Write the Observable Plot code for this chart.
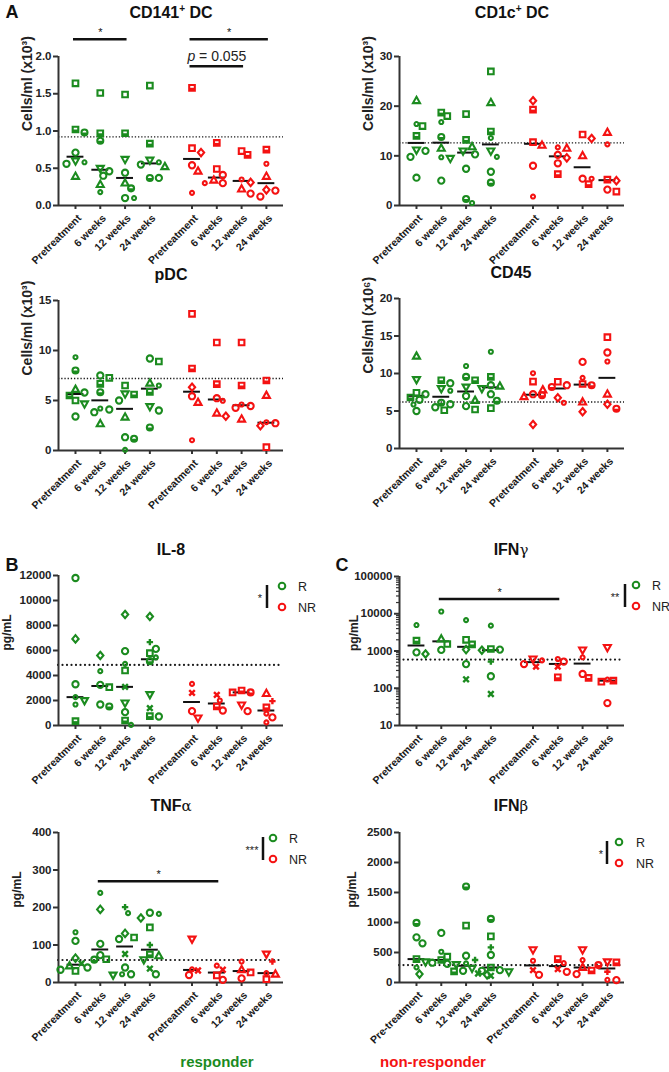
<!DOCTYPE html>
<html><head><meta charset="utf-8">
<script src="https://cdn.jsdelivr.net/npm/d3@7"></script>
<script src="https://cdn.jsdelivr.net/npm/@observablehq/plot@0.6"></script>
<style>
body{margin:0;background:#fff;font-family:"Liberation Sans",Arial,sans-serif;}
#root{position:relative;width:669px;height:1072px;overflow:hidden;background:#fff;}
.abs{position:absolute;white-space:nowrap;line-height:1;}
.title{font-weight:bold;font-size:16px;color:#111;transform:translate(-50%,-50%);}
.title sup{font-size:10px;vertical-align:6px;line-height:0;}
.title .gr{font-weight:normal;font-family:"DejaVu Serif",serif;font-size:15px;}
.letter{font-weight:bold;font-size:18px;color:#111;transform:translate(-50%,-50%);}
.grp{font-weight:bold;font-size:15px;transform:translate(-50%,-50%);}
</style></head><body><div id="root"></div><script>
// ---------------- DATA ----------------
const timepoints = ["Pretreatment","6 weeks","12 weeks","24 weeks","Pretreatment","6 weeks","12 weeks","24 weeks"];
const timepointsIFNb = ["Pre-treatment","6 weeks","12 weeks","24 weeks","Pre-treatment","6 weeks","12 weeks","24 weeks"];
const responder = [true,true,true,true,false,false,false,false];
// [group index, value, patient symbol]
const cd141 = [
 [0,1.64,"sq"],[0,1.02,"hs"],[0,0.98,"hc"],[0,0.71,"ci"],[0,0.60,"td"],[0,0.58,"sc"],[0,0.56,"ci"],[0,0.39,"tu"],
 [1,1.51,"sq"],[1,0.97,"hs"],[1,0.87,"hc"],[1,0.50,"td"],[1,0.46,"ci"],[1,0.40,"ci"],[1,0.28,"tu"],[1,0.18,"sc"],
 [2,1.49,"sq"],[2,0.97,"hs"],[2,0.62,"td"],[2,0.44,"ci"],[2,0.30,"tu"],[2,0.23,"hc"],[2,0.10,"ci"],[2,0.10,"sc"],
 [3,1.61,"sq"],[3,0.83,"hs"],[3,0.61,"td"],[3,0.58,"sc"],[3,0.55,"ci"],[3,0.52,"tu"],[3,0.37,"hc"],[3,0.37,"ci"],
 [4,1.58,"hs"],[4,0.77,"sq"],[4,0.71,"di"],[4,0.54,"ci"],[4,0.46,"tu"],[4,0.17,"sc"],
 [5,0.84,"hs"],[5,0.49,"sq"],[5,0.41,"ci"],[5,0.34,"tu"],[5,0.30,"ci"],[5,0.30,"sc"],
 [6,0.73,"sq"],[6,0.68,"hs"],[6,0.35,"sc"],[6,0.31,"di"],[6,0.22,"tu"],[6,0.16,"ci"],
 [7,0.75,"hs"],[7,0.56,"sc"],[7,0.39,"tu"],[7,0.21,"di"],[7,0.20,"ci"],[7,0.12,"ci"]
];
const cd1c = [
 [0,21.1,"tu"],[0,16.4,"sc"],[0,16.0,"sq"],[0,14.0,"hs"],[0,11.2,"td"],[0,11.0,"ci"],[0,9.8,"ci"],[0,5.6,"ci"],
 [1,18.7,"hs"],[1,18.0,"sq"],[1,16.8,"sc"],[1,13.8,"hc"],[1,11.5,"tu"],[1,9.7,"sc"],[1,9.5,"td"],[1,5.0,"ci"],
 [2,18.4,"sq"],[2,13.2,"hs"],[2,11.8,"tu"],[2,11.0,"td"],[2,10.3,"ci"],[2,7.4,"ci"],[2,1.3,"hc"],[2,0.5,"sc"],
 [3,27.0,"sq"],[3,20.7,"tu"],[3,14.9,"hs"],[3,13.6,"sc"],[3,11.0,"td"],[3,9.8,"sc"],[3,6.8,"ci"],[3,4.6,"hc"],
 [4,21.1,"di"],[4,19.3,"hs"],[4,12.75,"sq"],[4,12.1,"tu"],[4,8.0,"ci"],[4,1.8,"sc"],
 [5,11.7,"sc"],[5,11.5,"tu"],[5,10.2,"ci"],[5,9.6,"di"],[5,8.5,"ci"],[5,6.3,"hs"],
 [6,14.3,"sq"],[6,13.5,"di"],[6,10.0,"tu"],[6,5.4,"ci"],[6,5.4,"sc"],[6,4.3,"hs"],
 [7,14.7,"tu"],[7,12.3,"sc"],[7,5.2,"hs"],[7,5.0,"di"],[7,3.2,"ci"],[7,2.8,"sq"]
];
const pdc = [
 [0,9.33,"sc"],[0,8.0,"hc"],[0,6.1,"tu"],[0,5.8,"ci"],[0,5.5,"hs"],[0,5.0,"sq"],[0,4.67,"td"],[0,3.4,"ci"],
 [1,7.5,"ci"],[1,7.27,"sq"],[1,6.67,"hs"],[1,5.83,"hc"],[1,4.2,"sc"],[1,4.1,"ci"],[1,3.83,"ci"],[1,2.67,"tu"],
 [2,6.5,"sq"],[2,5.67,"td"],[2,5.6,"hs"],[2,5.0,"ci"],[2,3.33,"tu"],[2,1.33,"ci"],[2,1.17,"hc"],[2,0.07,"sc"],
 [3,9.2,"ci"],[3,8.9,"sq"],[3,6.73,"tu"],[3,6.5,"sc"],[3,5.87,"hs"],[3,4.4,"td"],[3,4.0,"ci"],[3,2.3,"hc"],
 [4,13.67,"sq"],[4,8.2,"hs"],[4,6.33,"di"],[4,5.43,"ci"],[4,4.8,"tu"],[4,1.03,"sc"],
 [5,10.8,"sq"],[5,6.63,"hs"],[5,5.23,"ci"],[5,4.97,"sc"],[5,3.73,"tu"],[5,3.43,"di"],
 [6,10.8,"sq"],[6,6.5,"hs"],[6,4.6,"sc"],[6,4.45,"ci"],[6,4.27,"ci"],[6,3.13,"tu"],
 [7,7.0,"hs"],[7,5.5,"tu"],[7,2.83,"sc"],[7,2.73,"ci"],[7,2.47,"di"],[7,0.33,"sq"]
];
const cd45 = [
 [0,12.3,"tu"],[0,9.2,"td"],[0,7.42,"sq"],[0,7.24,"ci"],[0,6.8,"hs"],[0,6.5,"ci"],[0,5.87,"sc"],[0,5.0,"ci"],
 [1,9.1,"hs"],[1,8.7,"ci"],[1,8.0,"td"],[1,7.7,"sc"],[1,6.1,"hc"],[1,5.9,"ci"],[1,5.5,"ci"],[1,5.1,"sq"],
 [2,11.0,"sc"],[2,9.55,"hc"],[2,9.1,"hs"],[2,8.2,"td"],[2,7.0,"ci"],[2,6.4,"tu"],[2,5.65,"ci"],[2,5.2,"sq"],
 [3,12.9,"sc"],[3,9.55,"hs"],[3,8.44,"ci"],[3,8.3,"tu"],[3,8.0,"td"],[3,7.24,"ci"],[3,6.36,"hc"],[3,5.38,"sq"],
 [4,10.04,"sc"],[4,8.93,"sq"],[4,7.24,"ci"],[4,7.1,"hc"],[4,6.9,"tu"],[4,3.2,"di"],
 [5,8.9,"sq"],[5,8.44,"ci"],[5,8.2,"hc"],[5,7.8,"tu"],[5,6.76,"di"],[5,6.1,"sc"],
 [6,11.55,"ci"],[6,9.42,"sc"],[6,8.6,"sq"],[6,8.44,"hc"],[6,6.18,"tu"],[6,4.9,"di"],
 [7,14.84,"sq"],[7,12.8,"ci"],[7,11.6,"sc"],[7,7.24,"tu"],[7,5.9,"di"],[7,5.3,"hc"]
];
const il8 = [
 [0,11800,"ci"],[0,6930,"di"],[0,3300,"ci"],[0,2270,"sc"],[0,2000,"td"],[0,1680,"sc"],[0,350,"hs"],
 [1,5600,"di"],[1,4350,"sc"],[1,3250,"ci"],[1,3070,"sq"],[1,1680,"ci"],[1,1520,"hc"],
 [2,8880,"di"],[2,5950,"ci"],[2,4930,"sc"],[2,4400,"sq"],[2,3090,"x"],[2,1810,"td"],[2,1070,"ci"],[2,400,"hs"],[2,50,"sc"],
 [3,8720,"di"],[3,6670,"p"],[3,6130,"ci"],[3,5790,"sq"],[3,5450,"sc"],[3,5150,"hc"],[3,2480,"td"],[3,1390,"x"],[3,750,"hs"],[3,720,"ci"],
 [4,3330,"sc"],[4,2610,"x"],[4,1150,"ci"],[4,610,"td"],
 [5,2450,"x"],[5,2000,"sc"],[5,1520,"hs"],[5,1200,"ci"],
 [6,2800,"hs"],[6,2650,"hc"],[6,2650,"sq"],[6,1650,"td"],[6,1150,"ci"],
 [7,2550,"tu"],[7,1950,"p"],[7,1450,"hs"],[7,950,"sc"],[7,650,"ci"],[7,250,"sc"]
];
const ifng = [
 [0,4970,"sc"],[0,1890,"hs"],[0,920,"ci"],[0,832,"di"],
 [1,11500,"sc"],[1,2090,"tu"],[1,1540,"sq"],[1,1070,"ci"],
 [2,6760,"sc"],[2,2000,"sq"],[2,1500,"hs"],[2,1090,"di"],[2,445,"ci"],[2,174,"x"],
 [3,4790,"sc"],[3,1130,"hs"],[3,1090,"ci"],[3,1050,"di"],[3,518,"p"],[3,210,"ci"],[3,70,"x"],
 [4,611,"td"],[4,560,"sc"],[4,446,"ci"],[4,380,"x"],
 [5,611,"sc"],[5,519,"ci"],[5,380,"x"],[5,197,"hs"],
 [6,1070,"td"],[6,677,"sc"],[6,242,"ci"],[6,189,"hs"],
 [7,1250,"td"],[7,171,"sc"],[7,160,"hs"],[7,150,"sq"],[7,40,"ci"]
];
const tnfa = [
 [0,134,"sc"],[0,111,"ci"],[0,65,"di"],[0,51,"x"],[0,44,"tu"],[0,40,"ci"],[0,34,"ci"],[0,31,"sq"],
 [1,239,"sc"],[1,195,"di"],[1,103,"ci"],[1,73,"ci"],[1,62,"sq"],[1,61,"hc"],
 [2,201,"p"],[2,185,"sc"],[2,131,"di"],[2,120,"sq"],[2,116,"ci"],[2,76,"x"],[2,40,"ci"],[2,22,"ci"],[2,22,"sc"],[2,20,"td"],
 [3,186,"ci"],[3,183,"sc"],[3,172,"di"],[3,147,"sq"],[3,100,"p"],[3,75,"hs"],[3,71,"tu"],[3,61,"td"],[3,37,"x"],[3,22,"ci"],
 [4,116,"td"],[4,35,"sc"],[4,32,"x"],[4,20,"ci"],
 [5,45,"sc"],[5,34,"x"],[5,19,"sq"],[5,7,"ci"],
 [6,56,"sc"],[6,34,"tu"],[6,27,"sq"],[6,11,"ci"],
 [7,76,"td"],[7,56,"p"],[7,25,"sc"],[7,22,"tu"],[7,9,"sq"]
];
const ifnb = [
 [0,993,"hc"],[0,753,"ci"],[0,653,"ci"],[0,390,"hs"],[0,346,"td"],[0,251,"sc"],[0,140,"di"],
 [1,826,"ci"],[1,513,"sc"],[1,430,"sq"],[1,375,"hs"],[1,330,"ci"],[1,310,"ci"],[1,300,"td"],
 [2,1601,"hc"],[2,949,"sq"],[2,446,"ci"],[2,374,"p"],[2,318,"sc"],[2,240,"td"],[2,195,"ci"],[2,184,"hs"],[2,150,"x"],[2,128,"di"],
 [3,1060,"hc"],[3,770,"sq"],[3,586,"p"],[3,458,"ci"],[3,250,"hs"],[3,206,"ci"],[3,195,"ci"],[3,180,"td"],[3,112,"x"],
 [4,547,"td"],[4,363,"sc"],[4,206,"x"],[4,128,"ci"],
 [5,390,"hs"],[5,324,"sc"],[5,223,"x"],[5,178,"ci"],
 [6,547,"td"],[6,374,"sc"],[6,250,"tu"],[6,200,"hs"],[6,140,"ci"],
 [7,346,"td"],[7,335,"hs"],[7,290,"hc"],[7,178,"p"],[7,45,"sc"],[7,39,"ci"]
];
// healthy-donor reference levels (dotted lines)
const refLevels = {cd141:0.92, cd1c:12.6, pdc:7.2, cd45:6.2, il8:4850, ifng:590, tnfa:60, ifnb:290};
// significance annotations: [from group, to group, level, label]
const sigCD141 = [[0,2,2.23,"*"],[4,7,2.23,"*"],[4,6,1.87,"p = 0.055"]];
const sigIFNg = [[1,5,25000,"*"]];
const sigTNFa = [[1,5,270,"*"]];
const legendStars = {il8:"*", ifng:"**", tnfa:"***", ifnb:"*"};

// ---------------- STYLE / LAYOUT ----------------
const GREEN = "#1b8b1f", RED = "#f41212", AX = "#333", INK = "#1a1a1a";
const GROUP_POS = [0,1,2,3,4.7,5.7,6.7,7.7];
const X_DOMAIN = [-0.685, 8.39];
const FRAME_W = 225;
const R = {sq:2.8, ci:3.1, sc:2.0, tu:3.7, td:3.7, di:3.7, hc:3.0, hs:2.8, x:2.8, p:3.2};
const rad = s => Math.sqrt(s / Math.PI);
const SYM = {
  sq:{draw(c,s){const r=rad(s);c.moveTo(-r,-r);c.lineTo(r,-r);c.lineTo(r,r);c.lineTo(-r,r);c.closePath();}},
  ci:{draw(c,s){const r=rad(s);c.moveTo(r,0);c.arc(0,0,r,0,2*Math.PI);}},
  sc:{draw(c,s){const r=rad(s);c.moveTo(r,0);c.arc(0,0,r,0,2*Math.PI);}},
  tu:{draw(c,s){const r=rad(s);c.moveTo(0,-r*1.05);c.lineTo(r*0.95,r*0.65);c.lineTo(-r*0.95,r*0.65);c.closePath();}},
  td:{draw(c,s){const r=rad(s);c.moveTo(0,r*1.05);c.lineTo(r*0.95,-r*0.65);c.lineTo(-r*0.95,-r*0.65);c.closePath();}},
  di:{draw(c,s){const r=rad(s);c.moveTo(0,-r);c.lineTo(r*0.85,0);c.lineTo(0,r);c.lineTo(-r*0.85,0);c.closePath();}},
  hc:{draw(c,s){const r=rad(s);c.moveTo(r,0);c.arc(0,0,r,0,2*Math.PI);}},
  hs:{draw(c,s){const r=rad(s);c.moveTo(-r,-r);c.lineTo(r,-r);c.lineTo(r,r);c.lineTo(-r,r);c.closePath();}},
  x:{draw(c,s){const r=rad(s);c.moveTo(-r,-r);c.lineTo(r,r);c.moveTo(r,-r);c.lineTo(-r,r);}},
  p:{draw(c,s){const r=rad(s);c.moveTo(-r,0);c.lineTo(r,0);c.moveTo(0,-r);c.lineTo(0,r);}}
};
const HALF = {
  hc:{draw(c,s){const r=rad(s);c.moveTo(r,0);c.arc(0,0,r,0,Math.PI);c.closePath();}},
  hs:{draw(c,s){const r=rad(s);c.moveTo(-r,0);c.lineTo(r,0);c.lineTo(r,r);c.lineTo(-r,r);c.closePath();}}
};
const minorLog = [];
for (const d of [10,100,1000,10000]) for (let k=2;k<10;k++) minorLog.push(d*k);

const panels = [
  {data:cd141, col:0, svgTop:20, height:250, frameTop:56, frameBottom:205, yDomain:[0,2], yTicks:[0,0.5,1,1.5,2], yFormat:d3.format(".1f"),
   yLabel:"Cells/ml (x10³)", labelSize:14, labelDx:-31, ref:refLevels.cd141, fine:true, labels:timepoints, sig:sigCD141},
  {data:cd1c, col:1, svgTop:20, height:250, frameTop:56, frameBottom:205, yDomain:[0,30], yTicks:[0,10,20,30], yFormat:d3.format("d"),
   yLabel:"Cells/ml (x10³)", labelSize:14, labelDx:-31, ref:refLevels.cd1c, fine:true, labels:timepoints},
  {data:pdc, col:0, svgTop:282, height:240, frameTop:300, frameBottom:450, yDomain:[0,15], yTicks:[0,5,10,15], yFormat:d3.format("d"),
   yLabel:"Cells/ml (x10³)", labelSize:14, labelDx:-31, ref:refLevels.pdc, fine:true, labels:timepoints},
  {data:cd45, col:1, svgTop:282, height:240, frameTop:298, frameBottom:448, yDomain:[0,20], yTicks:[0,5,10,15,20], yFormat:d3.format("d"),
   yLabel:"Cells/ml (x10⁶)", labelSize:14, labelDx:-31, ref:refLevels.cd45, fine:true, labels:timepoints},
  {data:il8, col:0, svgTop:560, height:235, frameTop:575, frameBottom:725, yDomain:[0,12000], yTicks:d3.range(0,12001,2000), yFormat:d3.format("d"),
   yLabel:"pg/mL", labelSize:12, labelDx:-51, ref:refLevels.il8, fine:false, labels:timepoints},
  {data:ifng, col:1, svgTop:560, height:235, frameTop:576, frameBottom:725, yDomain:[10,100000], log:true, yTicks:[10,100,1000,10000,100000], yFormat:d3.format("d"),
   yLabel:"pg/mL", labelSize:12, labelDx:-45, ref:refLevels.ifng, fine:false, labels:timepoints, sig:sigIFNg},
  {data:tnfa, col:0, svgTop:815, height:240, frameTop:832, frameBottom:982, yDomain:[0,400], yTicks:[0,100,200,300,400], yFormat:d3.format("d"),
   yLabel:"pg/mL", labelSize:12, labelDx:-41, ref:refLevels.tnfa, fine:false, labels:timepoints, sig:sigTNFa},
  {data:ifnb, col:1, svgTop:815, height:240, frameTop:832, frameBottom:982, yDomain:[0,2500], yTicks:d3.range(0,2501,500), yFormat:d3.format("d"),
   yLabel:"pg/mL", labelSize:12, labelDx:-47, ref:refLevels.ifnb, fine:false, labels:timepointsIFNb}
];

const root = document.getElementById("root");

function buildPanel(cfg) {
  const colLeft = cfg.col === 0 ? 0 : 335;
  const width = cfg.col === 0 ? 335 : 334;
  const marginLeft = cfg.col === 0 ? 58 : 64;
  const marginRight = width - marginLeft - FRAME_W;
  const marginTop = cfg.frameTop - cfg.svgTop;
  const marginBottom = cfg.svgTop + cfg.height - cfg.frameBottom;
  const frameH = cfg.frameBottom - cfg.frameTop;
  const ys = (cfg.log ? d3.scaleLog() : d3.scaleLinear()).domain(cfg.yDomain).range([frameH, 0]);
  const unit = FRAME_W / (X_DOMAIN[1] - X_DOMAIN[0]);
  const STEP = 3;
  const points = [];
  for (let g = 0; g < 8; g++) {
    const grp = cfg.data.filter(d => d[0] === g).map(([gi, v, s]) => ({g: gi, v, s, py: ys(v), rr: R[s] + 1}));
    grp.sort((a, b) => b.v - a.v);
    const placed = [];
    for (const p of grp) {
      let off = 0;
      for (let k = 0; k < 60; k++) {
        const cand = k === 0 ? 0 : (k % 2 ? 1 : -1) * Math.ceil(k / 2) * STEP;
        if (placed.every(q => Math.hypot(cand - q.off, p.py - q.py) >= p.rr + q.rr - 0.8)) { off = cand; break; }
      }
      p.off = off; placed.push(p);
      p.x = GROUP_POS[g] + off / unit;
      p.color = responder[g] ? GREEN : RED;
      points.push(p);
    }
  }
  const medians = d3.range(8).map(g => ({
    m: d3.median(cfg.data.filter(d => d[0] === g), d => d[1]),
    x1: GROUP_POS[g] - 0.34, x2: GROUP_POS[g] + 0.34
  }));
  const ticks = GROUP_POS.map((x, i) => ({x, label: cfg.labels[i]}));
  const marks = [
    cfg.fine
      ? Plot.ruleY([cfg.ref], {stroke: INK, strokeWidth: 1.3, strokeDasharray: "1.3,1.9"})
      : Plot.ruleY([cfg.ref], {stroke: INK, strokeWidth: 2.2, strokeDasharray: "0,4.5", strokeLinecap: "round"}),
    Plot.ruleX([X_DOMAIN[0]], {y1: cfg.yDomain[0], y2: cfg.yDomain[1], stroke: AX, strokeWidth: 2}),
    Plot.ruleY([cfg.yDomain[0]], {x1: X_DOMAIN[0], x2: X_DOMAIN[1], stroke: AX, strokeWidth: 2}),
    Plot.axisY({ticks: cfg.yTicks, tickFormat: cfg.yFormat, tickSize: 5, tickPadding: 2, strokeWidth: 2, stroke: AX, fill: "#222", fontSize: 11.5, label: null}),
    Plot.axisX({ticks: GROUP_POS, tickFormat: () => "", tickSize: 4, strokeWidth: 2, stroke: AX, label: null}),
    Plot.text(ticks, {x: "x", text: "label", frameAnchor: "bottom", rotate: -45, textAnchor: "end", lineAnchor: "middle", dx: 4, dy: 11, fontSize: 10.5, fill: "#1a1a1a"}),
    Plot.text([cfg.yLabel], {frameAnchor: "left", rotate: -90, dx: cfg.labelDx, fontSize: cfg.labelSize, fontWeight: "bold", fill: "#222"}),
    Plot.ruleY(medians, {y: "m", x1: "x1", x2: "x2", stroke: "#111", strokeWidth: 2})
  ];
  if (cfg.log) marks.push(Plot.axisY({ticks: minorLog, tickFormat: () => "", tickSize: 3, strokeWidth: 1.2, stroke: AX, label: null}));
  for (const s of Object.keys(SYM)) {
    const subset = points.filter(p => p.s === s);
    if (!subset.length) continue;
    marks.push(Plot.dot(subset, {x: "x", y: "v", symbol: SYM[s], r: R[s], stroke: "color", fill: "none", strokeWidth: (s === "x" || s === "p") ? 2.4 : 2.1}));
    if (HALF[s]) marks.push(Plot.dot(subset, {x: "x", y: "v", symbol: HALF[s], r: R[s], fill: "color", stroke: "none"}));
  }
  if (cfg.sig) {
    const sig = cfg.sig.map(([from, to, level, text]) => ({
      level, text, x1: GROUP_POS[from] - 0.08, x2: GROUP_POS[to] + 0.08, xm: (GROUP_POS[from] + GROUP_POS[to]) / 2
    }));
    marks.push(Plot.ruleY(sig, {y: "level", x1: "x1", x2: "x2", stroke: "#111", strokeWidth: 2.5}));
    marks.push(Plot.text(sig.filter(d => d.text.startsWith("*")), {x: "xm", y: "level", text: "text", dy: -3, lineAnchor: "bottom", fontSize: 11, fontWeight: "normal", fill: "#111"}));
    marks.push(Plot.text(sig.filter(d => !d.text.startsWith("*")), {x: "xm", y: "level", text: "text", dy: -5, lineAnchor: "bottom", fontSize: 14, fontWeight: "normal", fill: "#222"}));
  }
  const svg = Plot.plot({
    width, height: cfg.height, marginLeft, marginRight, marginTop, marginBottom,
    x: {type: "linear", domain: X_DOMAIN},
    y: {type: cfg.log ? "log" : "linear", domain: cfg.yDomain},
    color: {type: "identity"},
    style: {fontFamily: '"Liberation Sans", Arial, sans-serif', fontSize: "11px", fontWeight: "bold", background: "transparent", overflow: "visible"},
    marks
  });
  svg.style.position = "absolute";
  svg.style.left = colLeft + "px";
  svg.style.top = cfg.svgTop + "px";
  svg.querySelectorAll("text").forEach(t => {
    if (t.textContent === "p = 0.055") t.innerHTML = '<tspan font-style="italic">p</tspan> = 0.055';
  });
  root.appendChild(svg);
}
panels.forEach(buildPanel);

// titles, panel letters, group captions
function addDiv(html, x, y, cls, color) {
  const d = document.createElement("div");
  d.className = "abs " + cls;
  d.innerHTML = html;
  d.style.left = x + "px"; d.style.top = y + "px";
  if (color) d.style.color = color;
  root.appendChild(d);
}
[
  ['CD141<sup>+</sup> DC', 171, 13], ['CD1c<sup>+</sup> DC', 512, 13],
  ['pDC', 171, 275], ['CD45', 511, 273],
  ['IL-8', 171, 550], ['IFN<span class="gr">γ</span>', 511, 550],
  ['TNF<span class="gr">α</span>', 171, 806], ['IFN<span class="gr">β</span>', 511, 806]
].forEach(([h, x, y]) => addDiv(h, x, y, "title"));
[['A', 12, 12], ['B', 12, 565], ['C', 342, 565]].forEach(([h, x, y]) => addDiv(h, x, y, "letter"));
addDiv("responder", 217, 1061, "grp", GREEN);
addDiv("non-responder", 433, 1061, "grp", RED);

// R / NR legends
const legends = [
  {star: legendStars.il8, starX: 260, barX: 267, cx: 282, tx: 298, y1: 586, y2: 607},
  {star: legendStars.ifng, starX: 615, barX: 625, cx: 636, tx: 652, y1: 585, y2: 606},
  {star: legendStars.tnfa, starX: 252, barX: 263, cx: 273, tx: 289, y1: 838, y2: 859},
  {star: legendStars.ifnb, starX: 601, barX: 607, cx: 619, tx: 636, y1: 842, y2: 863}
];
const ov = d3.select(root).append("svg").attr("width", 669).attr("height", 1072)
  .style("position", "absolute").style("left", 0).style("top", 0)
  .style("font-family", '"Liberation Sans", Arial, sans-serif');
for (const L of legends) {
  const ym = (L.y1 + L.y2) / 2;
  ov.append("text").attr("x", L.starX).attr("y", ym + 5).attr("text-anchor", "middle").attr("font-size", 11).attr("fill", "#222").text(L.star);
  ov.append("line").attr("x1", L.barX).attr("x2", L.barX).attr("y1", L.y1 - 1).attr("y2", L.y2 + 1).attr("stroke", "#111").attr("stroke-width", 2.5);
  ov.append("circle").attr("cx", L.cx).attr("cy", L.y1).attr("r", 3.3).attr("fill", "none").attr("stroke", GREEN).attr("stroke-width", 2);
  ov.append("circle").attr("cx", L.cx).attr("cy", L.y2).attr("r", 3.3).attr("fill", "none").attr("stroke", RED).attr("stroke-width", 2);
  ov.append("text").attr("x", L.tx).attr("y", L.y1 + 4.5).attr("font-size", 12.5).attr("fill", "#222").text("R");
  ov.append("text").attr("x", L.tx).attr("y", L.y2 + 4.5).attr("font-size", 12.5).attr("fill", "#222").text("NR");
}
</script></body></html>
